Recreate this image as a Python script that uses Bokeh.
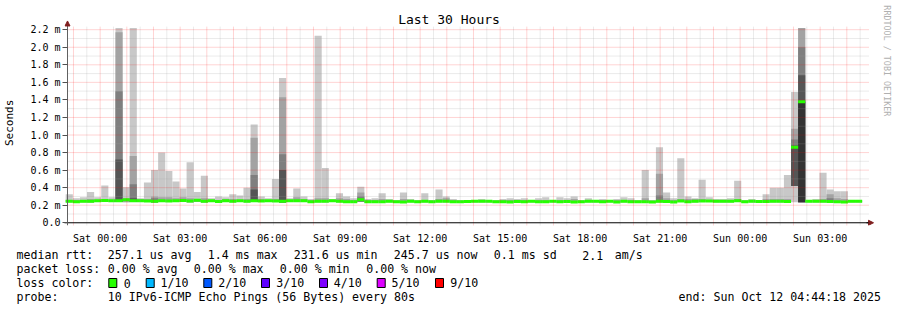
import math
from bokeh.plotting import figure
from bokeh.models import Range1d, FixedTicker, Arrow, NormalHead
from bokeh.layouts import column
from bokeh.embed import file_html
from bokeh.resources import INLINE
from bokeh.core.properties import value

FONT = "DejaVu Sans Mono"

# ---------------- data (time in minutes relative to Sat 00:00, rtt in ms) ----------------
X_START = -75.7          # Fri 22:44:18
X_END = 1724.3           # Sun 04:44:18
BIN_START = -77.5        # start of first consolidated bin
BIN_MIN = 16             # bin length in minutes

# outer smoke (max ping) per bin
smoke_max = [
    0.325, 0.28, 0.29, 0.35, 0.29, 0.425, 0.29, 2.22, 0.405, 2.22, 0.28, 0.46, 0.60, 0.80,
    0.59, 0.47, 0.39, 0.69, 0.35, 0.535, 0.28, 0.30, 0.29, 0.325, 0.31, 0.40, 1.12, 0.30,
    0.28, 0.50, 1.65, 0.28, 0.39, 0.30, 0.27, 2.13, 0.625, 0.27, 0.335, 0.30, 0.28, 0.41,
    0.27, 0.28, 0.335, 0.27, 0.26, 0.345, 0.27, 0.26, 0.335, 0.26, 0.38, 0.30, 0.27, 0.26,
    0.26, 0.26, 0.27, 0.26, 0.26, 0.27, 0.28, 0.27, 0.28, 0.26, 0.28, 0.29, 0.26, 0.29,
    0.28, 0.30, 0.26, 0.28, 0.26, 0.27, 0.26, 0.27, 0.29, 0.28, 0.26, 0.60, 0.26, 0.86,
    0.345, 0.28, 0.735, 0.30, 0.28, 0.49, 0.29, 0.27, 0.27, 0.28, 0.48, 0.26, 0.27, 0.26,
    0.325, 0.40, 0.40, 0.545, 1.49, 2.22, 0.26, 0.27, 0.57, 0.38, 0.36, 0.36, 0.26, 0.26,
]
# second smoke layer top
smoke_2 = [
    0.26, 0.26, 0.26, 0.27, 0.26, 0.27, 0.26, 2.17, 0.28, 0.76, 0.27, 0.27, 0.30, 0.29,
    0.29, 0.28, 0.29, 0.28, 0.27, 0.28, 0.26, 0.26, 0.27, 0.27, 0.26, 0.27, 0.97, 0.27,
    0.26, 0.27, 1.43, 0.26, 0.29, 0.27, 0.26, 0.28, 0.28, 0.26, 0.28, 0.27, 0.26, 0.345,
    0.26, 0.26, 0.27, 0.26, 0.25, 0.27, 0.26, 0.25, 0.26, 0.25, 0.27, 0.28, 0.26, 0.25,
    0.25, 0.25, 0.26, 0.25, 0.25, 0.26, 0.26, 0.26, 0.26, 0.25, 0.26, 0.26, 0.25, 0.26,
    0.26, 0.27, 0.25, 0.26, 0.25, 0.26, 0.25, 0.26, 0.26, 0.26, 0.25, 0.28, 0.25, 0.56,
    0.28, 0.26, 0.27, 0.27, 0.27, 0.27, 0.26, 0.26, 0.26, 0.26, 0.27, 0.25, 0.26, 0.25,
    0.27, 0.27, 0.27, 0.27, 1.07, 2.22, 0.25, 0.26, 0.27, 0.325, 0.28, 0.27, 0.25, 0.25,
]
# third smoke layer top (0 = no visible layer)
smoke_3 = [
    0, 0, 0, 0, 0, 0, 0, 1.50, 0, 0.44, 0, 0, 0.28, 0,
    0, 0, 0, 0, 0, 0, 0, 0, 0, 0, 0, 0, 0.545, 0,
    0, 0, 0.78, 0, 0, 0, 0, 0, 0, 0, 0, 0, 0, 0.30,
    0, 0, 0, 0, 0, 0, 0, 0, 0, 0, 0, 0, 0, 0,
    0, 0, 0, 0, 0, 0, 0, 0, 0, 0, 0, 0, 0, 0,
    0, 0, 0, 0, 0, 0, 0, 0, 0, 0, 0, 0, 0, 0.31,
    0, 0, 0, 0, 0, 0, 0, 0, 0, 0, 0, 0, 0, 0,
    0, 0, 0, 0, 0.95, 2.00, 0, 0, 0, 0.28, 0, 0, 0, 0,
]
# fourth smoke layer top
smoke_4 = [
    0, 0, 0, 0, 0, 0, 0, 0.72, 0, 0.28, 0, 0, 0, 0,
    0, 0, 0, 0, 0, 0, 0, 0, 0, 0, 0, 0, 0.38, 0,
    0, 0, 0.60, 0, 0, 0, 0, 0, 0, 0, 0, 0, 0, 0,
    0, 0, 0, 0, 0, 0, 0, 0, 0, 0, 0, 0, 0, 0,
    0, 0, 0, 0, 0, 0, 0, 0, 0, 0, 0, 0, 0, 0,
    0, 0, 0, 0, 0, 0, 0, 0, 0, 0, 0, 0, 0, 0,
    0, 0, 0, 0, 0, 0, 0, 0, 0, 0, 0, 0, 0, 0,
    0, 0, 0, 0, 0.88, 1.68, 0, 0, 0, 0, 0, 0, 0, 0,
]
# innermost smoke layer top
smoke_5 = [
    0, 0, 0, 0, 0, 0, 0, 0, 0, 0, 0, 0, 0, 0,
    0, 0, 0, 0, 0, 0, 0, 0, 0, 0, 0, 0, 0, 0,
    0, 0, 0, 0, 0, 0, 0, 0, 0, 0, 0, 0, 0, 0,
    0, 0, 0, 0, 0, 0, 0, 0, 0, 0, 0, 0, 0, 0,
    0, 0, 0, 0, 0, 0, 0, 0, 0, 0, 0, 0, 0, 0,
    0, 0, 0, 0, 0, 0, 0, 0, 0, 0, 0, 0, 0, 0,
    0, 0, 0, 0, 0, 0, 0, 0, 0, 0, 0, 0, 0, 0,
    0, 0, 0, 0, 0, 1.38, 0, 0, 0, 0, 0, 0, 0, 0,
]
# min ping per bin (bottom of outer smoke)
smoke_min = [
    0.235, 0.232, 0.235, 0.232, 0.236, 0.24, 0.236, 0.238, 0.235, 0.236, 0.238, 0.236, 0.23, 0.236,
    0.236, 0.238, 0.24, 0.232, 0.236, 0.232, 0.236, 0.232, 0.236, 0.234, 0.236, 0.234, 0.236, 0.236,
    0.236, 0.236, 0.232, 0.238, 0.236, 0.236, 0.232, 0.234, 0.234, 0.236, 0.234, 0.232, 0.232, 0.236,
    0.232, 0.232, 0.232, 0.234, 0.232, 0.23, 0.234, 0.232, 0.234, 0.232, 0.234, 0.234, 0.232, 0.232,
    0.232, 0.234, 0.234, 0.234, 0.232, 0.232, 0.23, 0.232, 0.232, 0.234, 0.232, 0.232, 0.234, 0.232,
    0.232, 0.23, 0.232, 0.234, 0.234, 0.232, 0.234, 0.23, 0.234, 0.232, 0.232, 0.232, 0.23, 0.234,
    0.232, 0.23, 0.236, 0.232, 0.234, 0.236, 0.236, 0.234, 0.234, 0.234, 0.236, 0.232, 0.234, 0.232,
    0.232, 0.234, 0.234, 0.232, 0.235, 0.235, 0.234, 0.234, 0.234, 0.232, 0.23, 0.228, 0.234, 0.234,
]
# bottom of the inner smoke layers
smoke_inner_min = [
    0.235, 0.232, 0.235, 0.232, 0.236, 0.24, 0.236, 0.238, 0.235, 0.236, 0.238, 0.236, 0.23, 0.236,
    0.236, 0.238, 0.24, 0.232, 0.236, 0.232, 0.236, 0.232, 0.236, 0.234, 0.236, 0.234, 0.236, 0.236,
    0.236, 0.236, 0.232, 0.238, 0.236, 0.236, 0.232, 0.234, 0.234, 0.236, 0.234, 0.232, 0.232, 0.236,
    0.232, 0.232, 0.232, 0.234, 0.232, 0.23, 0.234, 0.232, 0.234, 0.232, 0.234, 0.234, 0.232, 0.232,
    0.232, 0.234, 0.234, 0.234, 0.232, 0.232, 0.23, 0.232, 0.232, 0.234, 0.232, 0.232, 0.234, 0.232,
    0.232, 0.23, 0.232, 0.234, 0.234, 0.232, 0.234, 0.23, 0.234, 0.232, 0.232, 0.232, 0.23, 0.234,
    0.232, 0.23, 0.236, 0.232, 0.234, 0.236, 0.236, 0.234, 0.234, 0.234, 0.236, 0.232, 0.234, 0.232,
    0.232, 0.234, 0.234, 0.232, 0.42, 0.235, 0.234, 0.234, 0.234, 0.232, 0.23, 0.228, 0.234, 0.234,
]
# median rtt per bin
median_rtt = [
    0.245, 0.240, 0.245, 0.245, 0.250, 0.255, 0.250, 0.250, 0.262, 0.250, 0.250, 0.248, 0.245, 0.252,
    0.248, 0.252, 0.255, 0.248, 0.258, 0.245, 0.250, 0.242, 0.250, 0.245, 0.250, 0.245, 0.250, 0.248,
    0.250, 0.248, 0.245, 0.250, 0.250, 0.250, 0.240, 0.245, 0.245, 0.250, 0.245, 0.240, 0.240, 0.262,
    0.240, 0.240, 0.240, 0.245, 0.240, 0.238, 0.245, 0.240, 0.245, 0.240, 0.245, 0.245, 0.240, 0.240,
    0.242, 0.245, 0.245, 0.245, 0.240, 0.240, 0.238, 0.242, 0.240, 0.245, 0.240, 0.240, 0.245, 0.240,
    0.242, 0.238, 0.240, 0.245, 0.245, 0.240, 0.245, 0.238, 0.245, 0.240, 0.240, 0.240, 0.238, 0.245,
    0.242, 0.238, 0.248, 0.240, 0.245, 0.248, 0.248, 0.245, 0.245, 0.245, 0.250, 0.240, 0.245, 0.242,
    0.242, 0.245, 0.245, 0.242, 0.860, 1.380, 0.245, 0.245, 0.245, 0.242, 0.240, 0.238, 0.245, 0.245,
]

x_tick_values = [0, 180, 360, 540, 720, 900, 1080, 1260, 1440, 1620]
x_tick_labels = ["Sat 00:00", "Sat 03:00", "Sat 06:00", "Sat 09:00", "Sat 12:00",
                 "Sat 15:00", "Sat 18:00", "Sat 21:00", "Sun 00:00", "Sun 03:00"]
y_tick_values = [0.0, 0.2, 0.4, 0.6, 0.8, 1.0, 1.2, 1.4, 1.6, 1.8, 2.0, 2.2]
y_tick_labels = ["0.0", "0.2 m", "0.4 m", "0.6 m", "0.8 m", "1.0 m", "1.2 m",
                 "1.4 m", "1.6 m", "1.8 m", "2.0 m", "2.2 m"]

loss_labels = ["0", "1/10", "2/10", "3/10", "4/10", "5/10", "9/10"]
loss_colors = ["#26ff00", "#00b8ff", "#0059ff", "#5e00ff", "#7e00ff", "#dd00ff", "#ff0000"]

rtt_stats = ["257.1 us avg", "1.4 ms max", "231.6 us min", "245.7 us now", "0.1 ms sd", "2.1", "am/s"]
loss_stats = ["0.00 % avg", "0.00 % max", "0.00 % min", "0.00 % now"]
probe_text = "10 IPv6-ICMP Echo Pings (56 Bytes) every 80s"
end_text = "end: Sun Oct 12 04:44:18 2025"
title_text = "Last 30 Hours"
watermark = "RRDTOOL / TOBI OETIKER"

SMOKE_COLORS = ["#c8c8c8", "#a3a3a3", "#7f7f7f", "#555555", "#333333"]

# ---------------- layout (pixels) ----------------
W, H_MAIN, H_LEG = 897, 246, 64
FL = 64            # frame left (px)
FB = 231           # frame bottom (px)
PXM = 800.0 / 1800.0   # px per minute
Y0PX, PPMS = 228.2, 90.1


def vx(px):
    return X_START + (px - 66) / PXM


def vy(py):
    return (Y0PX - py) / PPMS


def no_align(f):
    if "frame_align" in type(f).properties():
        f.frame_align = False


p = figure(width=W, height=H_MAIN, x_range=Range1d(vx(FL), vx(W)), y_range=Range1d(vy(FB), vy(0)),
           output_backend="svg", toolbar_location=None,
           min_border_left=FL, min_border_right=0, min_border_top=0,
           min_border_bottom=H_MAIN - FB)
no_align(p)
p.outline_line_color = None
p.background_fill_color = "white"
p.border_fill_color = "white"
p.xgrid.visible = False
p.ygrid.visible = False

n_bins = len(smoke_max)
lefts = [BIN_START + BIN_MIN * i for i in range(n_bins)]
rights = [l + BIN_MIN for l in lefts]

# smoke layers
layers = [smoke_max, smoke_2, smoke_3, smoke_4, smoke_5]
for k, tops in enumerate(layers):
    bots = smoke_min if k == 0 else smoke_inner_min
    idx = [i for i in range(n_bins) if tops[i] > bots[i]]
    p.quad(left=[lefts[i] for i in idx], right=[rights[i] for i in idx],
           bottom=[bots[i] for i in idx], top=[tops[i] for i in idx],
           fill_color=SMOKE_COLORS[k], line_color=None)

# median rtt, coloured by packet loss (0 loss everywhere)
p.segment(x0=lefts, x1=rights, y0=median_rtt, y1=median_rtt,
          line_color=loss_colors[0], line_width=3, line_cap="butt")

# grid (drawn on top, rrdtool style)
half_hours = list(range(-30, 1711, 60))
hours = list(range(-60, 1681, 60))
minor_y = [0.1, 0.3, 0.5, 0.7, 0.9, 1.1, 1.3, 1.5, 1.7, 1.9, 2.1]
gy0, gy1 = vy(FB), vy(27)
gx0, gx1 = vx(67), vx(868)
p.segment(x0=half_hours, x1=half_hours, y0=[gy0] * len(half_hours), y1=[gy1] * len(half_hours),
          line_color="#a0a0a0", line_alpha=0.42, line_width=1, line_dash="1 1")
p.segment(x0=[gx0] * len(minor_y), x1=[gx1] * len(minor_y), y0=minor_y, y1=minor_y,
          line_color="#a0a0a0", line_alpha=0.42, line_width=1, line_dash="1 1")
p.segment(x0=hours, x1=hours, y0=[gy0] * len(hours), y1=[gy1] * len(hours),
          line_color="#ff0000", line_alpha=0.34, line_width=1, line_dash="1 1")
major_y = y_tick_values[1:]
p.segment(x0=[gx0] * len(major_y), x1=[gx1] * len(major_y), y0=major_y, y1=major_y,
          line_color="#ff0000", line_alpha=0.34, line_width=1, line_dash="1 1")

# axis lines with arrows
AR = "#7f1f1f"
p.segment(x0=[vx(62)], x1=[vx(868)], y0=[0], y1=[0], line_color="black", line_width=1)
p.segment(x0=[vx(67)], x1=[vx(67)], y0=[vy(FB)], y1=[vy(25)], line_color="#606060", line_width=1)
p.add_layout(Arrow(end=NormalHead(size=5, fill_color=AR, line_color=AR),
                   x_start=vx(866), y_start=0, x_end=vx(873), y_end=0,
                   line_color="black", line_width=1))
p.add_layout(Arrow(end=NormalHead(size=5, fill_color=AR, line_color=AR),
                   x_start=vx(67), y_start=vy(26), x_end=vx(67), y_end=vy(21),
                   line_color="#606060", line_width=1))

# title and watermark
p.text(x=[vx(448.5)], y=[vy(19.5)], text=[title_text], text_align="center",
       text_baseline="middle", text_font=value(FONT), text_font_size="13px", text_color="black")
p.text(x=[vx(886)], y=[vy(5)], text=[watermark], angle=-math.pi / 2,
       text_align="left", text_baseline="middle", text_font=value(FONT),
       text_font_size="8.4px", text_color="#b0b0b0")

# axes
xa = p.xaxis[0]
xa.ticker = FixedTicker(ticks=x_tick_values)
xa.major_label_overrides = dict(zip(x_tick_values, x_tick_labels))
xa.major_label_text_font = FONT
xa.major_label_text_font_size = "10px"
xa.major_label_text_color = "black"
xa.major_label_standoff = 1
xa.axis_line_color = None
xa.major_tick_line_color = None
xa.minor_tick_line_color = None

ya = p.yaxis[0]
ya.ticker = FixedTicker(ticks=y_tick_values)
ya.major_label_overrides = dict(zip(y_tick_values, y_tick_labels))
ya.major_label_text_font = FONT
ya.major_label_text_font_size = "10px"
ya.major_label_text_color = "black"
ya.major_label_standoff = 2
ya.axis_line_color = None
ya.major_tick_line_color = "#505050"
ya.minor_tick_line_color = None
ya.major_tick_out = 2
ya.major_tick_in = 3
ya.axis_label = "Seconds\u00a0\u00a0\u00a0"
ya.axis_label_text_font = FONT
ya.axis_label_text_font_size = "11px"
ya.axis_label_text_font_style = "normal"
ya.axis_label_text_color = "black"
ya.axis_label_standoff = 11

# ---------------- legend area ----------------
leg = figure(width=W, height=H_LEG, x_range=Range1d(0, W), y_range=Range1d(H_MAIN + H_LEG, H_MAIN),
             output_backend="svg", toolbar_location=None, min_border=0,
             x_axis_type=None, y_axis_type=None)
no_align(leg)
leg.outline_line_color = None
leg.grid.visible = False

Y1, Y2, Y3, Y4 = 254.5, 268.5, 282.5, 296.8
rtt_x = [107.3, 207.3, 293.3, 393.3, 493.3, 581.7, 614.3]
loss_x = [107.3, 193.3, 279.3, 365.7]
box_x = [108.3, 145.7, 203.3, 261.0, 319.0, 376.7, 435.0]
box_lab_x = [123.3, 160.0, 217.7, 275.7, 333.3, 391.0, 449.7]

tx = [16, 16, 16, 16] + rtt_x + loss_x + box_lab_x + [107.3]
ty = [Y1, Y2, Y3, Y4] + [Y1] * len(rtt_x) + [Y2] * len(loss_x) + [Y3] * len(box_lab_x) + [Y4]
tt = (["median rtt:", "packet loss:", "loss color:", "probe:"] + rtt_stats + loss_stats
      + loss_labels + [probe_text])

leg.text(x=tx, y=ty, text=tt, text_font=value(FONT), text_font_size="11.6px",
         text_baseline="middle", text_align="left", text_color="black")
leg.text(x=[880.5], y=[Y4], text=[end_text], text_font=value(FONT), text_font_size="11.6px",
         text_baseline="middle", text_align="right", text_color="black")
leg.quad(left=box_x, right=[b + 8 for b in box_x], top=[Y3 - 4.5] * len(box_x),
         bottom=[Y3 + 4.5] * len(box_x), fill_color=loss_colors, line_color="black", line_width=1)

layout = column(p, leg, spacing=0)
open("out.html", "w").write(file_html(layout, INLINE))
